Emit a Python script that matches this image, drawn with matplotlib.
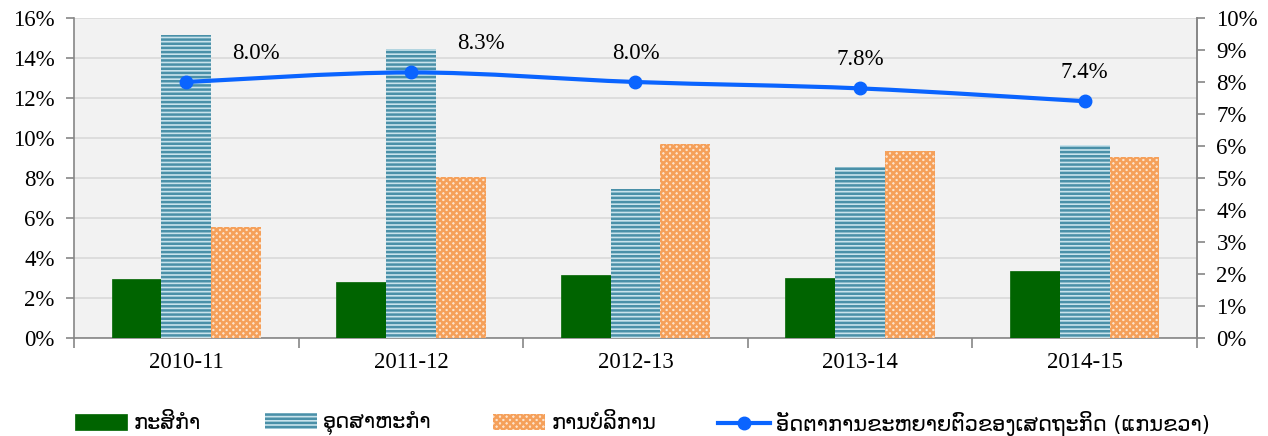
import numpy as np
import matplotlib.pyplot as plt
from matplotlib.path import Path
from matplotlib.patches import PathPatch, Patch
from matplotlib.lines import Line2D
from matplotlib.ticker import FuncFormatter

plt.rcParams['font.family'] = ['Liberation Serif', 'DejaVu Sans']
plt.rcParams['hatch.linewidth'] = 1.8

years = ['2010-11', '2011-12', '2012-13', '2013-14', '2014-15']
agri = [2.95, 2.8, 3.15, 3.0, 3.35]
industry = [15.15, 14.45, 7.45, 8.55, 9.65]
services = [5.55, 8.05, 9.7, 9.35, 9.05]
gdp_growth = [8.0, 8.3, 8.0, 7.8, 7.4]

labels = ['ກະສິກຳ', 'ອຸດສາຫະກຳ', 'ການບໍລິການ', 'ອັດຕາການຂະຫຍາຍຕົວຂອງເສດຖະກິດ (ແກນຂວາ)']

grid_c = '#d9d9d9'
spine_c = '#868686'
fs = 16.5

fig = plt.figure(figsize=(12.68, 4.36), dpi=100)
ax = fig.add_axes([74/1268, 1-338/436, (1197-74)/1268, 320/436])
ax.set_facecolor('#f2f2f2')

x = np.arange(len(years))
w = 0.222
green_kw = dict(color='#006400', edgecolor='#006400', linewidth=0.5)
blue_kw = dict(facecolor='#c9e3ec', edgecolor='#4a90a8', hatch='----', linewidth=0)
orange_kw = dict(facecolor='#fde3cc', edgecolor='#f5a05a', hatch='xxxxx', linewidth=0)
ax.bar(x - w, agri, w, zorder=3, **green_kw)
ax.bar(x, industry, w, zorder=3, **blue_kw)
ax.bar(x + w, services, w, zorder=3, **orange_kw)

ax.set_xlim(-0.5, len(years) - 0.5)
ax.set_ylim(0, 16)
ax.set_yticks(np.arange(0, 17, 2))
ax.yaxis.set_major_formatter(FuncFormatter(lambda v, p: f'{v:.0f}%'))
ax.yaxis.grid(True, color=grid_c, linewidth=1.2, zorder=0)
ax.set_axisbelow(True)
ax.set_xticks(x)
ax.set_xticklabels(years)
ax.set_xticks(np.arange(-0.5, len(years), 1), minor=True)
ax.tick_params(axis='x', which='major', length=0, pad=10, labelsize=fs)
ax.tick_params(axis='x', which='minor', length=7, color=spine_c, width=1.2)
ax.tick_params(axis='y', length=6, color=spine_c, width=1.2, labelsize=fs, pad=8)
ax.spines['top'].set_visible(False)
for s in ['left', 'bottom', 'right']:
    ax.spines[s].set_color(spine_c)
    ax.spines[s].set_linewidth(1.2)

ax2 = ax.twinx()
ax2.set_ylim(0, 10)
ax2.set_yticks(np.arange(0, 11, 1))
ax2.yaxis.set_major_formatter(FuncFormatter(lambda v, p: f'{v:.0f}%'))
ax2.tick_params(axis='y', length=6, color=spine_c, width=1.2, labelsize=fs, pad=8)
for s in ['top', 'left', 'bottom']:
    ax2.spines[s].set_visible(False)
ax2.spines['right'].set_color(spine_c)
ax2.spines['right'].set_linewidth(1.2)

# smoothed line through the points (Catmull-Rom as cubic beziers)
pts = np.column_stack([x, gdp_growth]).astype(float)
verts = [tuple(pts[0])]
codes = [Path.MOVETO]
for i in range(len(pts) - 1):
    p0 = pts[i - 1] if i > 0 else pts[i]
    p1, p2 = pts[i], pts[i + 1]
    p3 = pts[i + 2] if i + 2 < len(pts) else pts[i + 1]
    c1 = p1 + (p2 - p0) / 6
    c2 = p2 - (p3 - p1) / 6
    verts += [tuple(c1), tuple(c2), tuple(p2)]
    codes += [Path.CURVE4] * 3
line_c = '#0a64ff'
ax2.add_patch(PathPatch(Path(verts, codes), facecolor='none', edgecolor=line_c, linewidth=3, zorder=4))
ax2.plot(x, gdp_growth, 'o', color=line_c, markersize=9, zorder=5)
for xi, v in zip(x, gdp_growth):
    dx = 0.31 if xi < 2 else 0
    ax2.annotate(f'{v:.1f}%', (xi + dx, v), xytext=(0, 13), textcoords='offset points',
                 ha='center', va='bottom', fontsize=fs)

handles = [
    Patch(**green_kw),
    Patch(**blue_kw),
    Patch(**orange_kw),
    Line2D([0], [0], color=line_c, linewidth=3, marker='o', markersize=9),
]
# one legend per entry, placed along the bottom
handle_x = [75, 265, 493, 718]
for h, lab, hx in zip(handles, labels, handle_x):
    fig.legend([h], [lab], loc='center left', bbox_to_anchor=(hx/1268, 1-423/436),
               frameon=False, prop={'family': 'DejaVu Sans', 'size': 15},
               handlelength=2.5, handleheight=0.82, handletextpad=0.3,
               borderpad=0, borderaxespad=0)

fig.savefig('out.png', dpi=100)
